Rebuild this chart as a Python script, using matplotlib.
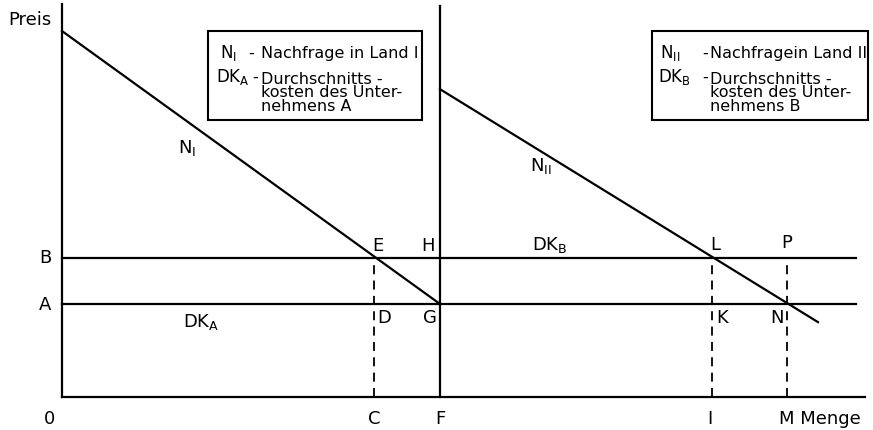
import matplotlib.pyplot as plt
from matplotlib.patches import Rectangle

# quantities on the Menge axis (units, O = 0)
q_labels = ['0', 'C', 'F', 'I']
q_values = [0, 6.6, 8.0, 13.75]
q_M = 15.35
x_end = 17.0       # end of the quantity axis
line_end = 16.8    # end of the cost lines

# price levels
p_labels = ['A', 'B']
p_values = [2.0, 3.0]
y_top = 8.45

# demand curves (x, y)
n1_x = [0, 8.0]
n1_y = [7.87, 2.0]
n2_x = [8.0, 16.0]
n2_y = [6.62, 1.61]

# legend texts
leg1 = ['Nachfrage in Land I', 'Durchschnitts -\nkosten des Unter-\nnehmens A']
leg2 = ['Nachfragein Land II', 'Durchschnitts -\nkosten des Unter-\nnehmens B']

# pixel -> data helper for text placement
X0, Y0, SX, SY = 62, 398, 47.25, 46.5
def P(px, py):
    return (px - X0) / SX, (Y0 - py) / SY

fig = plt.figure(figsize=(8.73, 4.31), dpi=100)
ax = fig.add_axes([0, 0, 1, 1])
ax.set_xlim(P(0, 0)[0], P(873, 0)[0])
ax.set_ylim(P(0, 431)[1], P(0, 0)[1])
ax.axis('off')

lw = 1.6
k = 'black'
# axes
ax.plot([0, x_end], [0, 0], color=k, lw=lw)
ax.plot([0, 0], [0, y_top], color=k, lw=lw)
ax.plot([q_values[2], q_values[2]], [0, y_top - 0.05], color=k, lw=lw)

# cost levels DK_A and DK_B
for p in p_values:
    ax.plot([0, line_end], [p, p], color=k, lw=lw)

# demand curves
ax.plot(n1_x, n1_y, color=k, lw=lw)
ax.plot(n2_x, n2_y, color=k, lw=lw)

# dashed drop lines
for q in [q_values[1], q_values[3], q_M]:
    ax.plot([q, q], [0, p_values[1]], color=k, lw=1.3, ls=(0, (5, 3.5)))

fs = 13
def lab(px, py, s, ha='center', size=fs):
    x, y = P(px, py)
    ax.text(x, y, s, ha=ha, va='center', fontsize=size, color=k)

lab(30, 20, 'Preis')
lab(50, 419, q_labels[0])
lab(374, 419, q_labels[1])
lab(440, 419, q_labels[2])
lab(710, 419, q_labels[3])
lab(779, 419, 'M Menge', ha='left')
lab(45, 258, p_labels[1])
lab(45, 305, p_labels[0])

lab(378, 246, 'E')
lab(428, 246, 'H')
lab(384, 318, 'D')
lab(430, 318, 'G')
lab(715, 245, 'L')
lab(787, 243, 'P')
lab(722, 318, 'K')
lab(777, 318, 'N')

lab(187, 148, r'N$_\mathrm{I}$')
lab(201, 322, r'DK$_\mathrm{A}$')
lab(541, 166, r'N$_\mathrm{II}$')
lab(550, 245, r'DK$_\mathrm{B}$')

# legend boxes
bfs = 11.5
def box(x0, y0, x1, y1):
    a, b = P(x0, y1)
    c, d = P(x1, y0)
    ax.add_patch(Rectangle((a, b), c - a, d - b, fill=False, ec=k, lw=1.5))

def btxt(px, py, s, size=bfs, ls=1.2):
    x, y = P(px, py)
    ax.text(x, y, s, ha='left', va='baseline', fontsize=size,
            color=k, linespacing=ls)

box(208, 32, 422, 121)
btxt(220, 58, r'N$_\mathrm{I}$', size=12)
btxt(248, 58, '-')
btxt(261, 58, leg1[0])
btxt(216, 82, r'DK$_\mathrm{A}$', size=12)
btxt(252, 82, '-')
btxt(261, 111, leg1[1], ls=0.88)

box(652, 32, 868, 121)
btxt(660, 58, r'N$_\mathrm{II}$', size=12)
btxt(702, 58, '-')
btxt(710, 58, leg2[0])
btxt(658, 82, r'DK$_\mathrm{B}$', size=12)
btxt(702, 82, '-')
btxt(710, 111, leg2[1], ls=0.88)

fig.savefig('out.png', dpi=100)
